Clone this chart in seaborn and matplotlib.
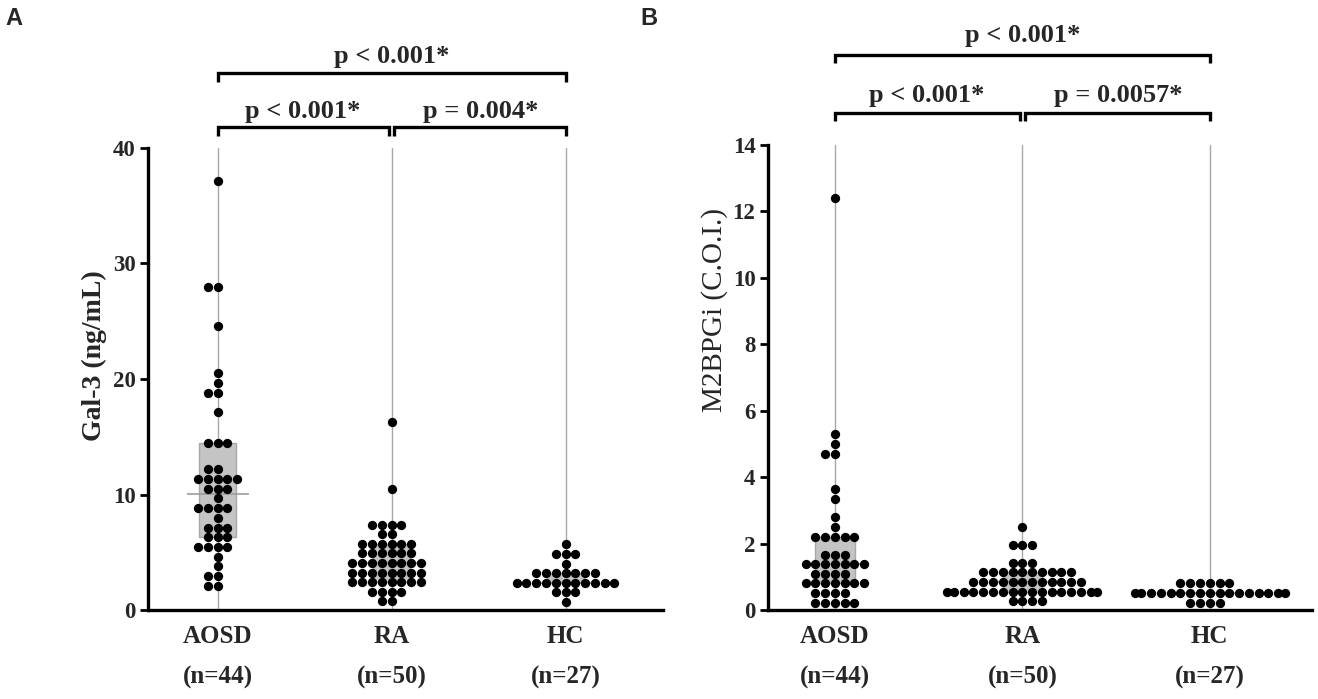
import numpy as np
import pandas as pd
import matplotlib
matplotlib.use("Agg")
import matplotlib.pyplot as plt
import seaborn as sns

# ---------------- data ----------------
groups = ["AOSD", "RA", "HC"]
group_labels = ["AOSD\n(n=44)", "RA\n(n=50)", "HC\n(n=27)"]

gal3_aosd = [37.1, 28.0, 28.0, 24.6, 20.5, 19.65, 18.8, 18.8, 17.1,
             14.5, 14.5, 14.5, 12.18, 12.18,
             11.34, 11.34, 11.34, 11.34, 11.34, 10.5, 10.5, 10.5, 9.66,
             8.82, 8.82, 8.82, 8.82, 7.98, 7.14, 7.14, 7.14, 6.3, 6.3, 6.3,
             5.46, 5.46, 5.46, 5.46, 4.62, 3.78, 2.94, 2.94, 2.1, 2.1]
gal3_ra = [16.3, 10.45, 7.39, 7.39, 7.39, 7.39, 6.56, 6.56,
           5.73, 5.73, 5.73, 5.73, 5.73, 5.73,
           4.9, 4.9, 4.9, 4.9, 4.9, 4.9,
           4.07, 4.07, 4.07, 4.07, 4.07, 4.07, 4.07, 4.07,
           3.24, 3.24, 3.24, 3.24, 3.24, 3.24, 3.24, 3.24,
           2.41, 2.41, 2.41, 2.41, 2.41, 2.41, 2.41, 2.41,
           1.58, 1.58, 1.58, 1.58, 0.75, 0.75]
gal3_hc = [5.68, 4.85, 4.85, 4.85, 4.02,
           3.19, 3.19, 3.19, 3.19, 3.19, 3.19, 3.19,
           2.36, 2.36, 2.36, 2.36, 2.36, 2.36, 2.36, 2.36, 2.36, 2.36, 2.36,
           1.53, 1.53, 1.53, 0.7]

m2_aosd = [12.4, 5.3, 5.0, 4.7, 4.7, 3.65, 3.35, 2.8, 2.5,
           2.2, 2.2, 2.2, 2.2, 2.2, 1.67, 1.67, 1.67,
           1.38, 1.38, 1.38, 1.38, 1.38, 1.38, 1.38,
           1.09, 1.09, 1.09, 1.09,
           0.8, 0.8, 0.8, 0.8, 0.8, 0.8, 0.8,
           0.51, 0.51, 0.51, 0.51, 0.22, 0.22, 0.22, 0.22, 0.22]
m2_ra = [2.5, 1.96, 1.96, 1.96, 1.42, 1.42, 1.42,
         1.13, 1.13, 1.13, 1.13, 1.13, 1.13, 1.13, 1.13, 1.13, 1.13,
         0.84, 0.84, 0.84, 0.84, 0.84, 0.84, 0.84, 0.84, 0.84, 0.84, 0.84, 0.84,
         0.55, 0.55, 0.55, 0.55, 0.55, 0.55, 0.55, 0.55, 0.55, 0.55, 0.55, 0.55,
         0.55, 0.55, 0.55, 0.55, 0.55,
         0.26, 0.26, 0.26, 0.26]
m2_hc = [0.8, 0.8, 0.8, 0.8, 0.8, 0.8,
         0.51, 0.51, 0.51, 0.51, 0.51, 0.51, 0.51, 0.51, 0.51, 0.51, 0.51,
         0.51, 0.51, 0.51, 0.51, 0.51, 0.51,
         0.22, 0.22, 0.22, 0.22]

gal3_ticks = [0, 10, 20, 30, 40]
m2_ticks = [0, 2, 4, 6, 8, 10, 12, 14]

pvals_a = ["p < 0.001*", "p < 0.001*", "p = 0.004*"]
pvals_b = ["p < 0.001*", "p < 0.001*", "p = 0.0057*"]


def long_df(a, r, h):
    return pd.DataFrame({
        "group": ["AOSD"] * len(a) + ["RA"] * len(r) + ["HC"] * len(h),
        "value": list(a) + list(r) + list(h),
    })


df_a = long_df(gal3_aosd, gal3_ra, gal3_hc)
df_b = long_df(m2_aosd, m2_ra, m2_hc)

# ---------------- style ----------------
sns.set_theme(style="white")
plt.rcParams["font.family"] = ["Liberation Serif", "DejaVu Serif"]

fig = plt.figure(figsize=(13.18, 6.99), dpi=100)
ax_a = fig.add_axes([0.1123, 0.1273, 0.3907, 0.6610])
ax_b = fig.add_axes([0.5827, 0.1273, 0.4127, 0.6653])


def draw_panel(ax, df, yticks, xlim, ylabel, ylabel_weight, ylabel_size,
               ylabel_xy):
    ymax = yticks[-1]
    sns.boxplot(data=df, x="group", y="value", order=groups, width=0.21,
                whis=0, showfliers=False, showcaps=False,
                color="#c4c4c4", linecolor="#a8a8a8", linewidth=1.0,
                medianprops=dict(linewidth=0), whiskerprops=dict(linewidth=0),
                ax=ax)
    sns.pointplot(data=df, x="group", y="value", order=groups,
                  estimator="median", errorbar=None, markers="_",
                  linestyles="none", color="#9c9c9c", markersize=45,
                  markeredgewidth=1.2, ax=ax, zorder=2.5)
    sns.swarmplot(data=df, x="group", y="value", order=groups,
                  color="black", size=6.7, ax=ax, zorder=3, clip_on=False)
    ax.set_xlim(*xlim)
    ax.set_ylim(0, ymax)
    ax.set_yticks(yticks)
    ax.set_yticklabels([str(t) for t in yticks], fontsize=16.5,
                       fontweight="bold")
    ax.set_xticks(range(len(groups)))
    ax.set_xticklabels(group_labels, fontsize=18, fontweight="bold",
                       linespacing=1.95)
    ax.tick_params(axis="x", length=0, pad=11)
    ax.tick_params(axis="y", length=6, width=2, direction="out", pad=3,
                   color="black", left=True)
    for s in ["top", "right"]:
        ax.spines[s].set_visible(False)
    for s in ["left", "bottom"]:
        ax.spines[s].set_visible(True)
        ax.spines[s].set_color("black")
        ax.spines[s].set_linewidth(2.4)
    ax.set_xlabel("")
    ax.set_ylabel(ylabel, fontsize=ylabel_size, fontweight=ylabel_weight)
    ax.yaxis.set_label_coords(*ylabel_xy)
    # vertical grey guide lines at each group
    ax.xaxis.grid(True, color="#a8a8a8", linewidth=1.0)
    ax.yaxis.grid(False)
    ax.set_axisbelow(True)


def bracket(ax, x0, x1, y, h):
    ax.plot([x0, x0, x1, x1], [y - h, y, y, y - h], color="black", lw=2.4,
            clip_on=False, solid_joinstyle="miter", solid_capstyle="butt")


draw_panel(ax_a, df_a, gal3_ticks, (-0.40, 2.56), "Gal-3 (ng/mL)", "bold",
           20, (-0.08, 0.55))
draw_panel(ax_b, df_b, m2_ticks, (-0.357, 2.545), "M2BPGi (C.O.I.)", "normal",
           21, (-0.074, 0.645))

# brackets panel A (data units: 11.55 px per unit)
bracket(ax_a, 0, 2, 46.5, 0.75)
bracket(ax_a, 0, 0.985, 41.8, 0.75)
bracket(ax_a, 1.015, 2, 41.8, 0.75)
ax_a.text(1.0, 47.4, pvals_a[0], ha="center", va="baseline", fontsize=19,
          fontweight="bold")
ax_a.text(0.49, 42.6, pvals_a[1], ha="center", va="baseline", fontsize=19,
          fontweight="bold")
ax_a.text(1.51, 42.6, pvals_a[2], ha="center", va="baseline", fontsize=19,
          fontweight="bold")

# brackets panel B (33.2 px per unit)
bracket(ax_b, 0, 2, 16.71, 0.25)
bracket(ax_b, 0, 0.985, 14.96, 0.25)
bracket(ax_b, 1.015, 2, 14.96, 0.25)
ax_b.text(1.0, 17.1, pvals_b[0], ha="center", va="baseline", fontsize=19,
          fontweight="bold")
ax_b.text(0.49, 15.3, pvals_b[1], ha="center", va="baseline", fontsize=19,
          fontweight="bold")
ax_b.text(1.51, 15.3, pvals_b[2], ha="center", va="baseline", fontsize=19,
          fontweight="bold")

fig.text(0.004, 0.99, "A", ha="left", va="top", fontsize=17,
         fontweight="bold", family=["Liberation Sans", "DejaVu Sans"])
fig.text(0.486, 0.99, "B", ha="left", va="top", fontsize=17,
         fontweight="bold", family=["Liberation Sans", "DejaVu Sans"])

fig.savefig("out.png", dpi=100)
